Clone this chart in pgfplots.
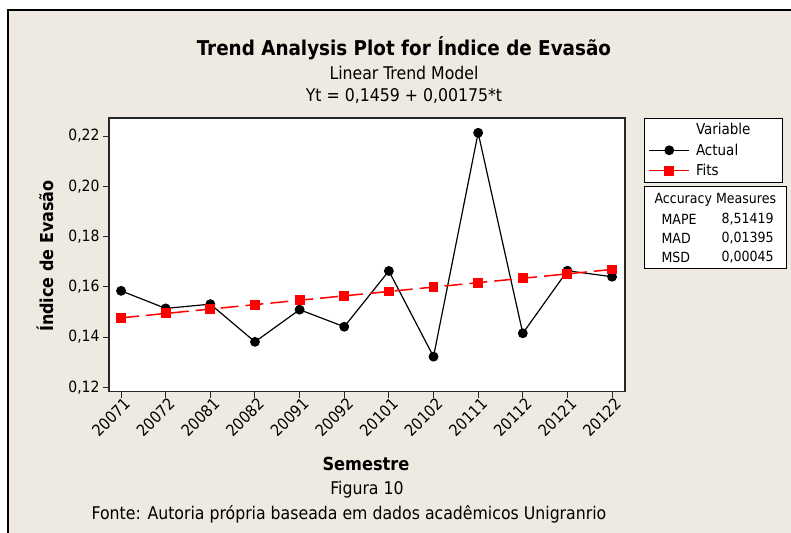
\documentclass[border=0pt]{standalone}
\usepackage{fontspec}
\setmainfont{DejaVu Sans Condensed}
\usepackage{pgfplots}
\pgfplotsset{compat=1.18}
\definecolor{bg}{HTML}{EEEAE1}
\definecolor{fitred}{HTML}{FF0000}
\newcommand{\fs}[1]{\fontsize{#1bp}{#1bp}\selectfont}
\pgfplotstableread{
t val
0 0.1584
1 0.1514
2 0.1531
3 0.1381
4 0.1509
5 0.1441
6 0.1663
7 0.1322
8 0.2213
9 0.1415
10 0.1664
11 0.1640
}\actual
\pgfplotstableread{
t val
0 0.14765
1 0.14940
2 0.15115
3 0.15290
4 0.15465
5 0.15640
6 0.15815
7 0.15990
8 0.16165
9 0.16340
10 0.16515
11 0.16690
}\fits
\begin{document}
\begin{tikzpicture}[x=1bp,y=1bp]
\useasboundingbox (0,0) rectangle (791,533);
\fill[white] (0,0) rectangle (791,533);
\fill[bg] (8,0) rectangle (791,523);
\draw[line width=1.5bp] (8,0) -- (8,523) -- (791,523);
\begin{axis}[
  at={(109bp,141.3bp)}, anchor=south west, scale only axis,
  width=516bp, height=273.7bp,
  xmin=-0.27, xmax=11.29, ymin=0.11825, ymax=0.2272,
  axis background/.style={fill=white},
  axis line style={line width=1.2bp, black!85},
  xtick={0,...,11},
  xticklabels={20071,20072,20081,20082,20091,20092,20101,20102,20111,20112,20121,20122},
  ytick={0.12,0.14,0.16,0.18,0.20,0.22},
  tick align=outside, major tick length=6bp,
  tick style={black!85, line width=1bp},
  tick pos=left,
  yticklabel style={font=\fs{15.5}, /pgf/number format/.cd, fixed, fixed zerofill, precision=2, use comma, assume math mode=true},
  xticklabel style={font=\fs{16}, rotate=45, anchor=north east, inner sep=0.5bp, xshift=2.5bp},
  legend style={at={(rel axis cs:1,1)}, anchor=north west, xshift=19bp,
    draw=black, line width=1bp, fill=white, font=\fs{15}, inner xsep=4bp, inner ysep=3bp,
    row sep=3.5bp, cells={anchor=west},
    /tikz/every odd column/.append style={column sep=4bp}},
  legend image code/.code={
    \draw[#1, mark repeat=2, mark phase=2] plot coordinates {(0bp,0bp) (20bp,0bp) (40bp,0bp)};
  },
]
\addlegendimage{empty legend}
\addlegendentry{\makebox[80bp][l]{Variable}}
\addplot[black, line width=1.2bp, mark=*, mark size=4.3bp, mark options={solid, fill=black}] table[x=t,y=val]{\actual};
\addlegendentry{Actual}
\addplot[fitred, line width=1.5bp, dash pattern=on 18bp off 7bp, mark=square*, mark size=4.2bp, mark options={solid, fill=fitred}] table[x=t,y=val]{\fits};
\addlegendentry{Fits}
\end{axis}
% titles
\node[font=\bfseries\fs{20.4}] at (404,485) {Trend Analysis Plot for Índice de Evasão};
\node[font=\fs{17.5}] at (404,460) {Linear Trend Model};
\node[font=\fs{17.5}] at (404,437) {Yt = 0,1459 + 0,00175*t};
% axis labels
\node[font=\bfseries\fs{17.8}, rotate=90] at (45,277) {Índice de Evasão};
\node[font=\bfseries\fs{18}] at (366,69) {Semestre};
\node[font=\fs{17.5}] at (367,43) {Figura 10};
\node[font=\fs{17.5}] at (349,19) {Fonte: Autoria própria baseada em dados acadêmicos Unigranrio};
% accuracy box
\draw[fill=white, line width=1bp] (644,264) rectangle (786,346);
\node[font=\fs{14}, anchor=west] at (651,333) {Accuracy Measures};
\node[font=\fs{14}, anchor=west] at (658,314) {MAPE};
\node[font=\fs{14}, anchor=west] at (718,314) {8,51419};
\node[font=\fs{14}, anchor=west] at (658,295) {MAD};
\node[font=\fs{14}, anchor=west] at (718,295) {0,01395};
\node[font=\fs{14}, anchor=west] at (658,276) {MSD};
\node[font=\fs{14}, anchor=west] at (718,276) {0,00045};
\end{tikzpicture}
\end{document}
